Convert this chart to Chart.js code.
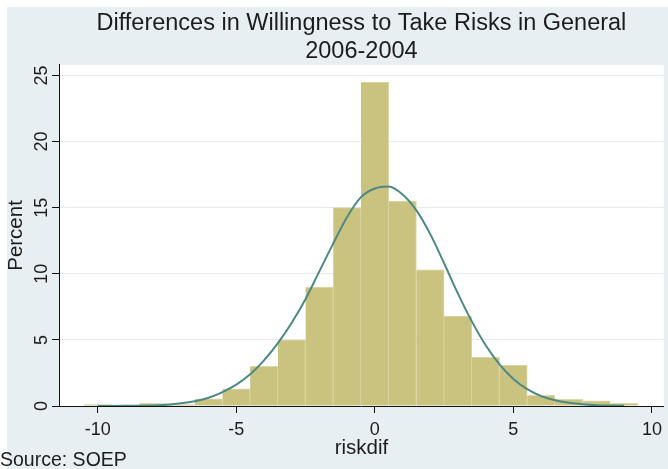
<!DOCTYPE html>
<html lang="en">
<head>
  <meta charset="UTF-8" />
  <title>Differences in Willingness to Take Risks in General</title>
  <script src="https://cdn.jsdelivr.net/npm/chart.js@4"></script>
  <style>
    html, body {
      margin: 0;
      padding: 0;
      background: #fff;
    }
    canvas {
      display: block;
    }
  </style>
</head>
<body>
  <canvas id="grafico" width="668" height="469"></canvas>

  <script>
    // histogram: one-point bins centred on each integer, height in percent
    const binCenters = [-10, -9, -8, -7, -6, -5, -4, -3, -2, -1, 0, 1, 2, 3, 4, 5, 6, 7, 8, 9];
    const binPercent = [0.1, 0, 0.2, 0.1, 0.55, 1.3, 3.0, 5.0, 9.0, 15.0, 24.5, 15.5, 10.3, 6.8, 3.7, 3.1, 0.8, 0.5, 0.4, 0.2];

    // normal density overlay
    const curveX = [-10, -9, -8, -7.5, -7, -6.5, -6, -5.5, -5, -4.5, -4, -3.5, -3, -2.5, -2, -1.5, -1, -0.5,
                    0, 0.5, 1, 1.5, 2, 2.5, 3, 3.5, 4, 4.5, 5, 5.5, 6, 6.5, 7, 7.5, 8, 8.5, 9];
    const curveY = [0.0, 0.01, 0.04, 0.1, 0.2, 0.36, 0.62, 1.05, 1.62, 2.4, 3.45, 4.75, 6.3, 8.1, 10.2, 12.3, 14.3, 15.8,
                    16.45, 16.6, 16.0, 14.8, 13.0, 10.8, 8.5, 6.4, 4.6, 3.15, 2.05, 1.27, 0.75, 0.43, 0.24, 0.13, 0.06, 0.03, 0.01];

    const xTicks = [-10, -5, 0, 5, 10];
    const yTicks = [0, 5, 10, 15, 20, 25];

    const corFundo = '#e8eff3';
    const corBarra = '#cac380';
    const corCurva = '#4d8984';
    const corTexto = '#1c1c1c';
    const fonte = "'Liberation Sans', Arial, Helvetica, sans-serif";

    Chart.defaults.font.family = fonte;
    Chart.defaults.color = corTexto;

    // stata-like graph region: light blue outside, white plot region
    const fundo = {
      id: 'fundo',
      beforeDraw(chart) {
        const { ctx, chartArea: a } = chart;
        ctx.save();
        ctx.fillStyle = '#fff';
        ctx.fillRect(0, 0, chart.width, chart.height);
        ctx.fillStyle = corFundo;
        ctx.fillRect(7, 7, chart.width - 7, chart.height - 7);
        ctx.fillStyle = '#fff';
        ctx.fillRect(a.left, a.top, a.right - a.left, a.bottom - a.top);
        ctx.restore();
      }
    };

    new Chart(document.getElementById('grafico').getContext('2d'), {
      type: 'bar',
      data: {
        datasets: [
          {
            type: 'line',
            label: 'Normal',
            data: curveX.map((x, i) => ({ x: x, y: curveY[i] })),
            borderColor: corCurva,
            borderWidth: 2,
            pointRadius: 0,
            fill: false,
            cubicInterpolationMode: 'monotone',
            order: 0
          },
          {
            type: 'bar',
            label: 'Percent',
            data: binCenters.map((x, i) => ({ x: x, y: binPercent[i] })),
            backgroundColor: corBarra,
            borderColor: '#ddd8aa',
            borderWidth: { top: 1, right: 1, bottom: 0, left: 0 },
            borderSkipped: false,
            barPercentage: 1,
            categoryPercentage: 1,
            order: 1
          }
        ]
      },
      options: {
        responsive: false,
        animation: false,
        events: [],
        layout: { padding: 0 },
        plugins: {
          legend: { display: false },
          tooltip: { enabled: false },
          title: {
            display: true,
            fullSize: false,
            text: ['Differences in Willingness to Take Risks in General', '2006-2004'],
            color: corTexto,
            font: { size: 23.5, weight: 'normal', lineHeight: 1.19 },
            padding: { top: 10, bottom: -1 }
          },
          subtitle: {
            display: true,
            position: 'bottom',
            align: 'start',
            text: 'Source: SOEP',
            color: corTexto,
            font: { size: 19.5, lineHeight: 1 },
            padding: { top: 5, bottom: -1 }
          }
        },
        scales: {
          x: {
            type: 'linear',
            offset: false,
            min: -11.4,
            max: 10.43,
            afterBuildTicks: s => { s.ticks = xTicks.map(v => ({ value: v })); },
            afterFit: s => { s.height = 39.5; },
            grid: { offset: false, drawOnChartArea: false, tickLength: 7, tickColor: '#111' },
            border: { color: '#111', width: 1, z: 1 },
            ticks: { padding: 6, maxRotation: 0, font: { size: 18 }, color: corTexto },
            title: {
              display: true,
              text: 'riskdif',
              color: corTexto,
              font: { size: 20.5, lineHeight: 1 },
              padding: { top: 0, bottom: -13 }
            }
          },
          y: {
            min: 0,
            max: 25.8,
            afterBuildTicks: s => { s.ticks = yTicks.map(v => ({ value: v })); },
            afterFit: s => { s.width = 59; },
            grid: { color: '#e4ecf2', lineWidth: 1, tickLength: 7, tickColor: '#111' },
            border: { color: '#111', width: 1 },
            ticks: { minRotation: 90, maxRotation: 90, crossAlign: 'center', padding: 0, font: { size: 18 }, color: corTexto },
            title: {
              display: true,
              text: 'Percent',
              color: corTexto,
              font: { size: 20.5, lineHeight: 1 },
              padding: { top: 6, bottom: 0 }
            }
          }
        }
      },
      plugins: [fundo]
    });
  </script>
</body>
</html>
